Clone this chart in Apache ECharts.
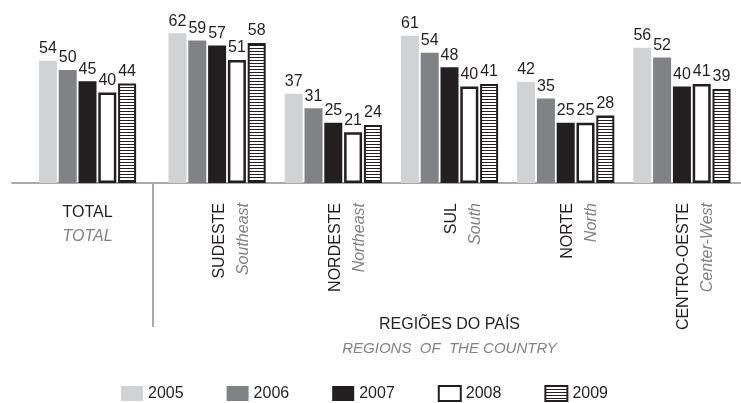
<!DOCTYPE html>
<html>
<head>
<meta charset="utf-8">
<script src="https://cdn.jsdelivr.net/npm/echarts@6/dist/echarts.min.js"></script>
<style>
  html, body { margin: 0; padding: 0; background: #fff; }
  #chart { width: 741px; height: 403px; }
</style>
</head>
<body>
<div id="chart"></div>
<script>
const years = ['2005', '2006', '2007', '2008', '2009']
const regions = ['SUDESTE', 'NORDESTE', 'SUL', 'NORTE', 'CENTRO-OESTE']
const regionsEn = ['Southeast', 'Northeast', 'South', 'North', 'Center-West']
// TOTAL, one value per year
const totalValues = [54, 50, 45, 40, 44]
// per region, one array per year
const values2005 = [62, 37, 61, 42, 56]
const values2006 = [59, 31, 54, 35, 52]
const values2007 = [57, 25, 48, 25, 40]
const values2008 = [51, 21, 40, 25, 41]
const values2009 = [58, 24, 41, 28, 39]

const regionValues = [values2005, values2006, values2007, values2008, values2009]

// horizontal stripe fill for 2009
const stripe = document.createElement('canvas')
stripe.width = 4
stripe.height = 3
const ctx = stripe.getContext('2d')
ctx.fillStyle = '#fff'
ctx.fillRect(0, 0, 4, 3)
ctx.fillStyle = '#231f20'
ctx.fillRect(0, 0, 4, 1)

const yearStyles = [
  { color: '#d1d2d4' },
  { color: '#808285' },
  { color: '#231f20' },
  { color: '#fff', borderColor: '#231f20', borderWidth: 2.5 },
  { color: { image: stripe, repeat: 'repeat' }, borderColor: '#231f20', borderWidth: 2 }
]

const dark = '#231f20'
const grayText = '#808285'
const sans = '"Liberation Sans", Arial, sans-serif'

const chart = echarts.init(document.getElementById('chart'))

const series = []
years.forEach((y, i) => {
  const common = {
    name: y,
    type: 'bar',
    barWidth: 18,
    barGap: '10%',
    itemStyle: yearStyles[i],
    label: {
      show: true,
      position: 'top',
      distance: 4,
      color: dark,
      fontSize: 16,
      fontFamily: sans
    }
  }
  series.push(Object.assign({}, common, { xAxisIndex: 0, yAxisIndex: 0, data: [totalValues[i]] }))
  series.push(Object.assign({}, common, { xAxisIndex: 1, yAxisIndex: 1, data: regionValues[i] }))
})

const option = {
  animation: false,
  grid: [
    { left: 12, width: 151, top: 2, bottom: 220 },
    { left: 159, right: 1, top: 2, bottom: 220 }
  ],
  xAxis: [
    {
      type: 'category',
      gridIndex: 0,
      data: ['TOTAL'],
      axisLine: { lineStyle: { color: '#a7a9ac', width: 2 } },
      axisTick: { show: false },
      axisLabel: {
        margin: 18,
        formatter: v => '{a|' + v + '}\n{b|' + v + '}',
        rich: {
          a: { fontFamily: sans, fontSize: 16, color: dark, lineHeight: 24 },
          b: { fontFamily: sans, fontSize: 16, fontStyle: 'italic', color: grayText, lineHeight: 24 }
        }
      }
    },
    {
      type: 'category',
      gridIndex: 1,
      data: regions,
      axisLine: { lineStyle: { color: '#a7a9ac', width: 2 } },
      axisTick: { show: false },
      axisLabel: {
        rotate: 90,
        margin: 20,
        padding: [28, 0, 0, 0],
        formatter: (v, idx) => '{a|' + v + '}\n{b|' + regionsEn[idx] + '}',
        rich: {
          a: { fontFamily: sans, fontSize: 16, color: dark, lineHeight: 24 },
          b: { fontFamily: sans, fontSize: 16, fontStyle: 'italic', color: grayText, lineHeight: 24 }
        }
      },
      name: '{a|REGIÕES DO PAÍS}\n{b|REGIONS  OF  THE COUNTRY}',
      nameLocation: 'middle',
      nameGap: 130,
      nameMoveOverlap: false,
      nameTextStyle: {
        rich: {
          a: { fontFamily: sans, fontSize: 16, color: dark, lineHeight: 24 },
          b: { fontFamily: sans, fontSize: 15, fontStyle: 'italic', color: grayText, lineHeight: 24 }
        }
      }
    }
  ],
  yAxis: [
    { type: 'value', gridIndex: 0, min: 0, max: 80, show: false },
    { type: 'value', gridIndex: 1, min: 0, max: 75, show: false }
  ],
  legend: {
    data: years,
    left: 121,
    top: 385,
    padding: 0,
    icon: 'rect',
    itemWidth: 22,
    itemHeight: 15,
    itemGap: 43,
    textStyle: { color: dark, fontSize: 16, fontFamily: sans }
  },
  graphic: [
    {
      type: 'line',
      shape: { x1: 153, y1: 183, x2: 153, y2: 327 },
      style: { stroke: '#a7a9ac', lineWidth: 2 }
    }
  ],
  series: series
}

chart.setOption(option)
</script>
</body>
</html>
